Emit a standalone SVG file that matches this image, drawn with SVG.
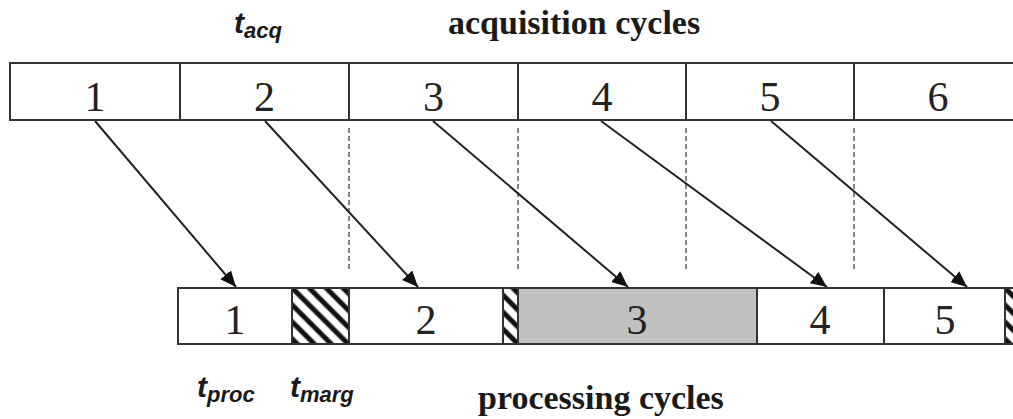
<svg xmlns="http://www.w3.org/2000/svg" width="1013" height="419" viewBox="0 0 1013 419">
  <defs>
    <style>
      .cell { fill: #ffffff; stroke: #333333; stroke-width: 2; }
      .busy { fill: #c0c0c0; stroke: #333333; stroke-width: 2; }
      .margin { fill: url(#hatch); stroke: #333333; stroke-width: 2; }
      .num { font-family: "Liberation Serif", "Times New Roman", serif; font-size: 42px; fill: #222222; text-anchor: middle; }
      .title { font-family: "Liberation Serif", "Times New Roman", serif; font-size: 34px; font-weight: bold; fill: #1a1a1a; }
      .sym { font-family: "Liberation Sans", Arial, sans-serif; font-weight: bold; font-style: italic; fill: #1a1a1a; }
      .arrow { stroke: #222222; stroke-width: 2; fill: none; marker-end: url(#head); }
      .guide { stroke: #666666; stroke-width: 1.6; stroke-dasharray: 5 3; fill: none; }
    </style>
    <pattern id="hatch" patternUnits="userSpaceOnUse" width="12" height="12" patternTransform="rotate(-45)">
      <rect width="12" height="12" fill="#ffffff"/>
      <line x1="3" y1="0" x2="3" y2="12" stroke="#111111" stroke-width="5"/>
    </pattern>
    <marker id="head" markerUnits="userSpaceOnUse" markerWidth="18" markerHeight="14" refX="16" refY="7" orient="auto">
      <path d="M0,0 L16,7 L0,14 z" fill="#111111"/>
    </marker>
  </defs>

  <!-- acquisition timeline -->
  <g id="acq-1"><rect class="cell" x="10" y="63" width="170" height="57"/><text class="num" x="95" y="111">1</text></g>
  <g id="acq-2"><rect class="cell" x="180" y="63" width="169" height="57"/><text class="num" x="264.5" y="111">2</text></g>
  <g id="acq-3"><rect class="cell" x="349" y="63" width="169" height="57"/><text class="num" x="433.5" y="111">3</text></g>
  <g id="acq-4"><rect class="cell" x="518" y="63" width="168" height="57"/><text class="num" x="602" y="111">4</text></g>
  <g id="acq-5"><rect class="cell" x="686" y="63" width="168" height="57"/><text class="num" x="770" y="111">5</text></g>
  <g id="acq-6"><rect class="cell" x="854" y="63" width="170" height="57"/><text class="num" x="938" y="111">6</text></g>

  <!-- processing timeline -->
  <g id="proc-1"><rect class="cell" x="178" y="288" width="114" height="56"/><text class="num" x="235" y="334">1</text></g>
  <g id="marg-1"><rect class="margin" x="292" y="288" width="57" height="56"/></g>
  <g id="proc-2"><rect class="cell" x="349" y="288" width="154" height="56"/><text class="num" x="426" y="334">2</text></g>
  <g id="marg-2"><rect class="margin" x="503" y="288" width="15" height="56"/></g>
  <g id="proc-3"><rect class="busy" x="518" y="288" width="239" height="56"/><text class="num" x="637" y="334">3</text></g>
  <g id="proc-4"><rect class="cell" x="757" y="288" width="127" height="56"/><text class="num" x="820" y="334">4</text></g>
  <g id="proc-5"><rect class="cell" x="884" y="288" width="121" height="56"/><text class="num" x="945" y="334">5</text></g>
  <g id="marg-5"><rect class="margin" x="1005" y="288" width="15" height="56"/></g>

  <!-- labels -->
  <g id="labels">
    <text class="sym" x="234" y="33" font-size="30">t<tspan font-size="22" dy="5">acq</tspan></text>
    <text class="title" x="448" y="34">acquisition cycles</text>
    <text class="sym" x="197" y="397" font-size="30">t<tspan font-size="22" dy="5">proc</tspan></text>
    <text class="sym" x="290" y="397" font-size="30">t<tspan font-size="22" dy="5">marg</tspan></text>
    <text class="title" x="478" y="409">processing cycles</text>
  </g>

  <!-- connectors -->
  <g id="connectors">
    <line class="guide" x1="349" y1="128" x2="349" y2="270"/>
    <line class="guide" x1="518" y1="128" x2="518" y2="270"/>
    <line class="guide" x1="686" y1="128" x2="686" y2="270"/>
    <line class="guide" x1="854" y1="128" x2="854" y2="270"/>
    <line class="arrow" x1="95" y1="121" x2="236" y2="287"/>
    <line class="arrow" x1="265" y1="121" x2="418" y2="287"/>
    <line class="arrow" x1="433" y1="121" x2="628" y2="287"/>
    <line class="arrow" x1="601" y1="121" x2="827" y2="287"/>
    <line class="arrow" x1="771" y1="121" x2="967" y2="287"/>
  </g>
</svg>
